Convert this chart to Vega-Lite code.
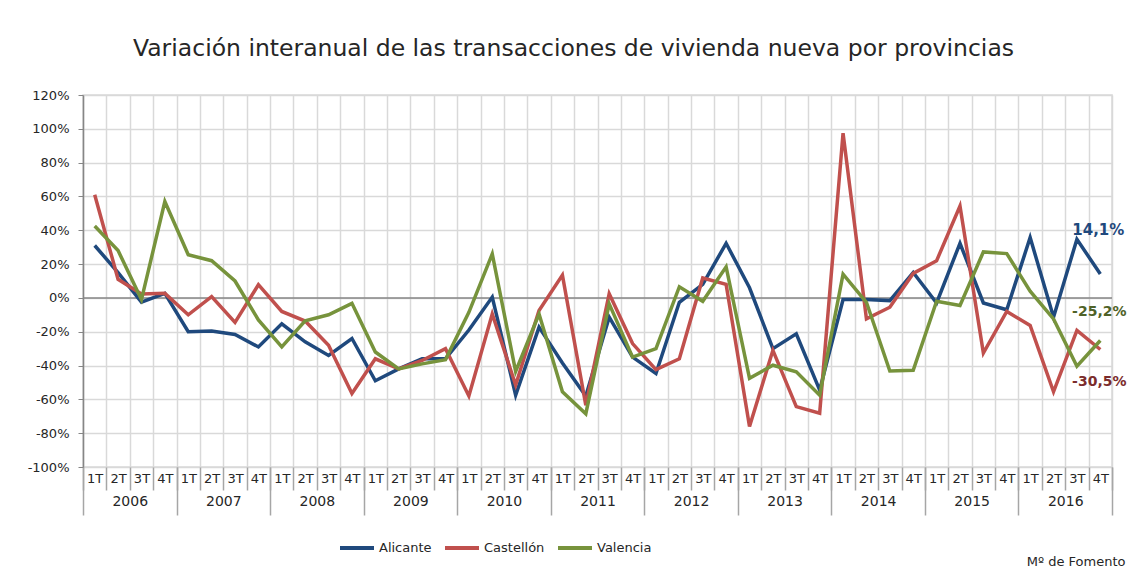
{
  "$schema": "https://vega.github.io/schema/vega-lite/v6.json",
  "width": 1029,
  "height": 372,
  "autosize": {"type": "none"},
  "padding": {"left": 83, "top": 95, "right": 17, "bottom": 105},
  "background": "white",
  "title": {
    "text": "Variación interanual de las transacciones  de vivienda nueva por provincias",
    "font": "DejaVu Sans",
    "fontSize": 23.5,
    "fontWeight": "normal",
    "color": "#262626",
    "anchor": "middle",
    "baseline": "alphabetic",
    "offset": 10,
    "dx": -24
  },
  "data": {
    "values": [
      {"periodo": "2006 1T", "anio": "2006", "Alicante": 31, "Castellón": 61, "Valencia": 42.5},
      {"periodo": "2006 2T", "anio": "2006", "Alicante": 15, "Castellón": 11, "Valencia": 28},
      {"periodo": "2006 3T", "anio": "2006", "Alicante": -2.5, "Castellón": 2.3, "Valencia": -1},
      {"periodo": "2006 4T", "anio": "2006", "Alicante": 2.7, "Castellón": 2.7, "Valencia": 57},
      {"periodo": "2007 1T", "anio": "2007", "Alicante": -20, "Castellón": -10, "Valencia": 25.5},
      {"periodo": "2007 2T", "anio": "2007", "Alicante": -19.6, "Castellón": 0.8, "Valencia": 22},
      {"periodo": "2007 3T", "anio": "2007", "Alicante": -21.6, "Castellón": -14.5, "Valencia": 10},
      {"periodo": "2007 4T", "anio": "2007", "Alicante": -29, "Castellón": 7.8, "Valencia": -13},
      {"periodo": "2008 1T", "anio": "2008", "Alicante": -15.3, "Castellón": -8, "Valencia": -29},
      {"periodo": "2008 2T", "anio": "2008", "Alicante": -26, "Castellón": -13.7, "Valencia": -13.5},
      {"periodo": "2008 3T", "anio": "2008", "Alicante": -34, "Castellón": -28, "Valencia": -10},
      {"periodo": "2008 4T", "anio": "2008", "Alicante": -24, "Castellón": -56.5, "Valencia": -3.2},
      {"periodo": "2009 1T", "anio": "2009", "Alicante": -49, "Castellón": -36, "Valencia": -32},
      {"periodo": "2009 2T", "anio": "2009", "Alicante": -42, "Castellón": -42, "Valencia": -42},
      {"periodo": "2009 3T", "anio": "2009", "Alicante": -36, "Castellón": -37, "Valencia": -39},
      {"periodo": "2009 4T", "anio": "2009", "Alicante": -36, "Castellón": -30, "Valencia": -36.5},
      {"periodo": "2010 1T", "anio": "2010", "Alicante": -19, "Castellón": -58, "Valencia": -8.5},
      {"periodo": "2010 2T", "anio": "2010", "Alicante": 0.5, "Castellón": -9.5, "Valencia": 26},
      {"periodo": "2010 3T", "anio": "2010", "Alicante": -57.5, "Castellón": -51.5, "Valencia": -43.5},
      {"periodo": "2010 4T", "anio": "2010", "Alicante": -17.3, "Castellón": -7.5, "Valencia": -9.5},
      {"periodo": "2011 1T", "anio": "2011", "Alicante": -38.5, "Castellón": 13.5, "Valencia": -55.5},
      {"periodo": "2011 2T", "anio": "2011", "Alicante": -58, "Castellón": -63.5, "Valencia": -68.5},
      {"periodo": "2011 3T", "anio": "2011", "Alicante": -11.4, "Castellón": 2.5, "Valencia": -3.5},
      {"periodo": "2011 4T", "anio": "2011", "Alicante": -35, "Castellón": -27, "Valencia": -35},
      {"periodo": "2012 1T", "anio": "2012", "Alicante": -44.7, "Castellón": -42.4, "Valencia": -30},
      {"periodo": "2012 2T", "anio": "2012", "Alicante": -2.6, "Castellón": -36, "Valencia": 6.6},
      {"periodo": "2012 3T", "anio": "2012", "Alicante": 8, "Castellón": 11.8, "Valencia": -2},
      {"periodo": "2012 4T", "anio": "2012", "Alicante": 32.3, "Castellón": 8, "Valencia": 18.4},
      {"periodo": "2013 1T", "anio": "2013", "Alicante": 6, "Castellón": -76, "Valencia": -47.6},
      {"periodo": "2013 2T", "anio": "2013", "Alicante": -30, "Castellón": -31, "Valencia": -39.8},
      {"periodo": "2013 3T", "anio": "2013", "Alicante": -21.2, "Castellón": -64.3, "Valencia": -43.7},
      {"periodo": "2013 4T", "anio": "2013", "Alicante": -54.5, "Castellón": -68.2, "Valencia": -57.5},
      {"periodo": "2014 1T", "anio": "2014", "Alicante": -1, "Castellón": 97.4, "Valencia": 14},
      {"periodo": "2014 2T", "anio": "2014", "Alicante": -1, "Castellón": -12.4, "Valencia": -2.6},
      {"periodo": "2014 3T", "anio": "2014", "Alicante": -1.6, "Castellón": -5.5, "Valencia": -43.2},
      {"periodo": "2014 4T", "anio": "2014", "Alicante": 15, "Castellón": 14.5, "Valencia": -42.8},
      {"periodo": "2015 1T", "anio": "2015", "Alicante": -3, "Castellón": 22, "Valencia": -2},
      {"periodo": "2015 2T", "anio": "2015", "Alicante": 32.3, "Castellón": 54.3, "Valencia": -4.5},
      {"periodo": "2015 3T", "anio": "2015", "Alicante": -3, "Castellón": -32.6, "Valencia": 27.2},
      {"periodo": "2015 4T", "anio": "2015", "Alicante": -7, "Castellón": -8, "Valencia": 26.2},
      {"periodo": "2016 1T", "anio": "2016", "Alicante": 35.7, "Castellón": -16.3, "Valencia": 4},
      {"periodo": "2016 2T", "anio": "2016", "Alicante": -11.4, "Castellón": -55.5, "Valencia": -12.4},
      {"periodo": "2016 3T", "anio": "2016", "Alicante": 34.7, "Castellón": -19.2, "Valencia": -40.4},
      {"periodo": "2016 4T", "anio": "2016", "Alicante": 14.1, "Castellón": -30.5, "Valencia": -25.2}
    ]
  },
  "transform": [
    {"fold": ["Alicante", "Castellón", "Valencia"], "as": ["provincia", "valor"]}
  ],
  "encoding": {
    "y": {
      "field": "valor",
      "type": "quantitative",
      "scale": {"domain": [-100, 120], "nice": false, "zero": false},
      "axis": {
        "title": null,
        "values": [-100, -80, -60, -40, -20, 0, 20, 40, 60, 80, 100, 120],
        "labelExpr": "datum.value + '%'",
        "labelFont": "DejaVu Sans",
        "labelFontSize": 13,
        "labelColor": "#262626",
        "labelPadding": 9,
        "tickSize": 5,
        "tickColor": "#868686",
        "domainColor": "#868686",
        "domainWidth": 1.5,
        "grid": true,
        "gridColor": "#d9d9d9",
        "gridWidth": 1.5
      }
    }
  },
  "layer": [
    {
      "encoding": {
        "x": {
          "field": "periodo",
          "type": "ordinal",
          "scale": {"paddingInner": 0, "paddingOuter": 0},
          "axis": {
            "title": null,
            "orient": "bottom",
            "labelExpr": "split(datum.value, ' ')[1]",
            "labelAngle": 0,
            "labelFont": "DejaVu Sans",
            "labelFontSize": 13,
            "labelColor": "#262626",
            "tickBand": "extent",
            "tickSize": 23,
            "tickColor": "#a6a6a6",
            "tickWidth": 1.5,
            "labelPadding": -18,
            "domain": false,
            "grid": true,
            "gridColor": "#d9d9d9",
            "gridWidth": 1.5
          }
        }
      },
      "layer": [
        {
          "data": {"values": [{"cero": 0}]},
          "transform": [],
          "mark": {"type": "rule", "color": "#868686", "strokeWidth": 1.5},
          "encoding": {"y": {"field": "cero", "type": "quantitative"}, "x": null}
        },
        {
          "mark": {"type": "line", "strokeWidth": 3.5, "strokeJoin": "miter"},
          "encoding": {
            "color": {
              "field": "provincia",
              "type": "nominal",
              "scale": {"domain": ["Alicante", "Castellón", "Valencia"], "range": ["#1f497d", "#c0504d", "#77933c"]},
              "legend": {
                "title": null,
                "orient": "none",
                "legendX": 255,
                "legendY": 434,
                "direction": "horizontal",
                "symbolType": "stroke",
                "symbolSize": 1156,
                "symbolStrokeWidth": 4,
                "labelFont": "DejaVu Sans",
                "labelFontSize": 13,
                "labelColor": "#262626",
                "labelOffset": 3,
                "columnPadding": 5,
                "padding": 0
              }
            }
          }
        },
        {
          "transform": [{"filter": "datum.periodo == '2016 4T' && datum.provincia == 'Alicante'"}],
          "mark": {"type": "text", "font": "DejaVu Sans", "fontSize": 15, "fontWeight": "bold", "color": "#1f497d", "dy": -44, "dx": -2},
          "encoding": {"text": {"value": "14,1%"}}
        },
        {
          "transform": [{"filter": "datum.periodo == '2016 4T' && datum.provincia == 'Valencia'"}],
          "mark": {"type": "text", "font": "DejaVu Sans", "fontSize": 14, "fontWeight": "bold", "color": "#4f6228", "dy": -29, "dx": -1},
          "encoding": {"text": {"value": "-25,2%"}}
        },
        {
          "transform": [{"filter": "datum.periodo == '2016 4T' && datum.provincia == 'Castellón'"}],
          "mark": {"type": "text", "font": "DejaVu Sans", "fontSize": 14, "fontWeight": "bold", "color": "#7b2c2c", "dy": 33, "dx": -1},
          "encoding": {"text": {"value": "-30,5%"}}
        }
      ]
    },
    {
      "mark": {"type": "point", "opacity": 0},
      "encoding": {
        "x": {
          "field": "anio",
          "type": "ordinal",
          "scale": {"paddingInner": 0, "paddingOuter": 0},
          "axis": {
            "orient": "bottom",
            "title": "Mº de Fomento",
            "titleFont": "DejaVu Sans",
            "titleFontSize": 13,
            "titleFontWeight": "normal",
            "titleColor": "#262626",
            "titleAnchor": "end",
            "titleAlign": "right",
            "titleBaseline": "middle",
            "titleX": 1042,
            "titleY": 94,
            "labelAngle": 0,
            "labelFont": "DejaVu Sans",
            "labelFontSize": 14,
            "labelColor": "#262626",
            "tickBand": "extent",
            "tickSize": 48,
            "tickColor": "#a6a6a6",
            "tickWidth": 1.5,
            "labelPadding": -21,
            "domain": false,
            "grid": false
          }
        }
      }
    }
  ],
  "resolve": {"scale": {"x": "independent"}, "axis": {"x": "independent"}},
  "config": {
    "view": {"stroke": "#d9d9d9", "strokeWidth": 1.5},
    "font": "DejaVu Sans"
  }
}
